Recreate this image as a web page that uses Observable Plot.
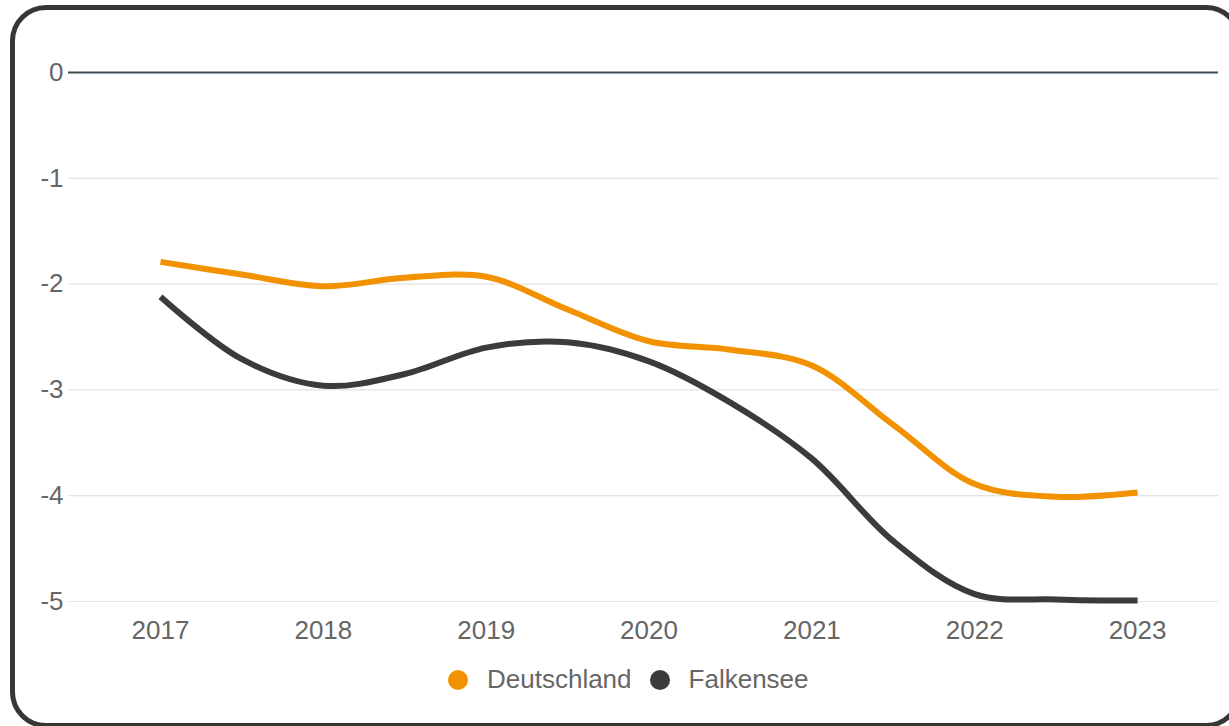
<!DOCTYPE html>
<html>
<head>
<meta charset="utf-8">
<script src="https://cdn.jsdelivr.net/npm/d3@7"></script>
<script src="https://cdn.jsdelivr.net/npm/@observablehq/plot@0.6"></script>
<style>
  html, body { margin: 0; padding: 0; background: #fff; overflow: hidden; }
  body { width: 1229px; height: 726px; position: relative; font-family: "Liberation Sans", Arial, sans-serif; }
  #chart { position: absolute; left: 0; top: 0; }
  #card { position: absolute; left: 10px; top: 5px; width: 1222px; height: 713px; border: 5px solid #363636; border-radius: 36px; pointer-events: none; z-index: 5; }
  #legend { position: absolute; left: 448px; top: 664px; display: flex; align-items: center; font-size: 26px; color: #666; white-space: nowrap; }
  .sw { display: inline-block; width: 20px; height: 20px; border-radius: 50%; margin-right: 19px; }
  .item { display: flex; align-items: center; margin-right: 18px; }
</style>
</head>
<body>
<div id="chart"></div>
<div id="legend"></div>
<div id="card"></div>
<script>
const years = [2017, 2017.5, 2018, 2018.5, 2019, 2019.5, 2020, 2020.5, 2021, 2021.5, 2022, 2022.5, 2023];
const deutschland = [-1.79, -1.91, -2.02, -1.94, -1.93, -2.24, -2.54, -2.62, -2.77, -3.33, -3.89, -4.01, -3.97];
const falkensee   = [-2.12, -2.71, -2.96, -2.85, -2.60, -2.55, -2.73, -3.12, -3.65, -4.43, -4.93, -4.98, -4.99];
const seriesNames = ["Deutschland", "Falkensee"];
const seriesColors = ["#f39200", "#3b3b3d"];
const xTicks = [2017, 2018, 2019, 2020, 2021, 2022, 2023];
const yTicks = [-5, -4, -3, -2, -1, 0];

const data = [];
years.forEach((yr, i) => {
  data.push({year: yr, value: deutschland[i], series: seriesNames[0]});
  data.push({year: yr, value: falkensee[i], series: seriesNames[1]});
});

const plot = Plot.plot({
  width: 1229,
  height: 650,
  marginTop: 72,
  marginBottom: 49,
  marginLeft: 68,
  marginRight: 11,
  style: {fontFamily: '"Liberation Sans", Arial, sans-serif', fontSize: "26px", background: "transparent"},
  x: {domain: [2016.435, 2023.497]},
  y: {domain: [-5, 0]},
  color: {domain: seriesNames, range: seriesColors},
  marks: [
    Plot.gridY(yTicks.filter(d => d !== 0), {stroke: "#e3e3e3", strokeOpacity: 1, strokeWidth: 1.2}),
    Plot.ruleY([0], {stroke: "#3f4e57", strokeWidth: 2}),
    Plot.axisY({ticks: yTicks, tickSize: 0, tickPadding: 5, tickFormat: d => String(d), color: "#666", fontSize: 26, label: null}),
    Plot.axisX({ticks: xTicks, tickSize: 0, tickPadding: 19, tickFormat: d => String(d), color: "#666", fontSize: 26, label: null}),
    Plot.line(data, {x: "year", y: "value", stroke: "series", z: "series", curve: "catmull-rom", strokeWidth: 6, strokeLinecap: "butt", strokeLinejoin: "round"})
  ]
});
document.getElementById("chart").appendChild(plot);

const legend = document.getElementById("legend");
seriesNames.forEach((name, i) => {
  const item = document.createElement("span");
  item.className = "item";
  const sw = document.createElement("span");
  sw.className = "sw";
  sw.style.background = seriesColors[i];
  item.appendChild(sw);
  item.appendChild(document.createTextNode(name));
  legend.appendChild(item);
});
</script>
</body>
</html>
